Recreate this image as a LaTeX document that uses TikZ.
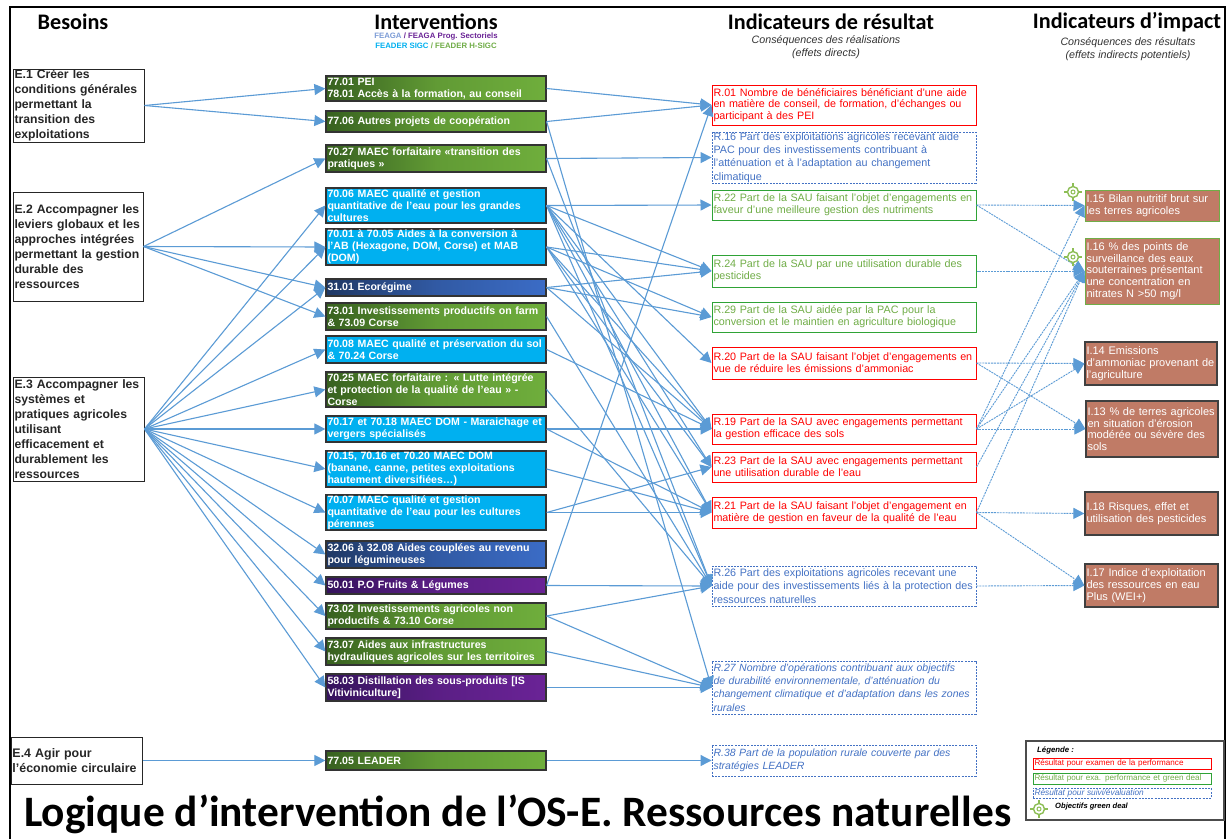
\documentclass[tikz,border=0pt]{standalone}
\usepackage{fontspec}
\setmainfont{Liberation Sans}
\newfontfamily\calib{Carlito}
\usetikzlibrary{arrows.meta}
\definecolor{cline}{HTML}{5B9BD5}
\definecolor{gdark}{HTML}{37601F}
\definecolor{glite}{HTML}{6FAE3C}
\definecolor{bsky}{HTML}{00B0F0}
\definecolor{bdark}{HTML}{1F3864}
\definecolor{blite}{HTML}{3B6CC6}
\definecolor{pdark}{HTML}{35135C}
\definecolor{plite}{HTML}{6A2396}
\definecolor{rblue}{HTML}{4472C4}
\definecolor{rgreen}{HTML}{70AD47}
\definecolor{bgreen}{HTML}{2FA336}
\definecolor{brick}{HTML}{C07B66}
\definecolor{icon}{HTML}{8DBE55}
\tikzset{
  base/.style={inner xsep=1.5pt,inner ysep=0pt,align=left,anchor=center},
  need/.style={base,draw=black!85,line width=1pt,fill=white,text=black!85,font=\fontsize{12.2}{15}\selectfont\bfseries},
  act/.style={base,draw=black!80,line width=1.2pt,text=white,font=\fontsize{10.6}{11.8}\selectfont\bfseries},
  agreen/.style={act,left color=gdark,right color=glite,middle color=glite!75!gdark},
  asky/.style={act,fill=bsky},
  ablue/.style={act,left color=bdark,right color=blite,middle color=blite!65!bdark},
  apurple/.style={act,left color=pdark,right color=plite,middle color=plite!70!pdark},
  rred/.style={base,draw=red,line width=1pt,fill=white,text=red,font=\fontsize{10.75}{11.8}\selectfont},
  rgr/.style={base,draw=bgreen,line width=1pt,fill=white,text=rgreen,font=\fontsize{10.75}{11.8}\selectfont},
  rbl/.style={base,draw=rblue,line width=0.9pt,dash pattern=on 2pt off 1.2pt,fill=white,text=rblue,font=\fontsize{10.75}{13.2}\selectfont},
  rbi/.style={rbl,font=\fontsize{10.5}{13.2}\selectfont\itshape},
  impgreen/.style={base,draw=rgreen,line width=1pt,fill=brick,text=white,font=\fontsize{11}{11.8}\selectfont},
  impdark/.style={base,draw=black!75,line width=1.2pt,fill=brick,text=white,font=\fontsize{11}{11.8}\selectfont},
  cn/.style={draw=cline,line width=1.1pt,-{Triangle[length=11pt,width=11pt,fill=cline]}},
  cd/.style={draw=cline,line width=0.9pt,dash pattern=on 2pt off 0.9pt,-{Triangle[length=11pt,width=11pt,fill=cline]}},
  hd/.style={font=\calib\fontsize{22.2}{24}\selectfont\bfseries,text=black,inner sep=0pt},
  sub/.style={font=\fontsize{10.7}{13}\selectfont\itshape,text=black!80,align=center,inner sep=0pt},
  small/.style={inner sep=0pt,anchor=west,font=\fontsize{7.6}{9}\selectfont},
  tg/.style={draw=icon,line width=1.4pt},
  lred/.style={base,draw=red,line width=1pt,fill=white,text=red,font=\fontsize{8.1}{9}\selectfont},
  lgre/.style={base,draw=bgreen,line width=1pt,fill=white,text=rgreen,font=\fontsize{8.1}{9}\selectfont},
  lblu/.style={base,draw=rblue,line width=0.9pt,dash pattern=on 2pt off 1.2pt,fill=white,text=rblue,font=\fontsize{8.3}{9}\selectfont\itshape}
}
\newcommand{\bx}[7]{%
  \pgfmathsetmacro\bw{#4-#2}\pgfmathsetmacro\bh{#5-#3}\pgfmathsetmacro\btw{#4-#2-3}%
  \node[#6,minimum width=\bw pt,minimum height=\bh pt,text width=\btw pt] (#1) at ({(#2+#4)/2},{(#3+#5)/2}) {#7};}
\newcommand{\tgt}[2]{%
  \draw[tg] (#1,#2) circle (5.5pt);
  \draw[tg,line width=1pt] (#1,#2) circle (2pt);
  \draw[tg] (#1-9,#2) -- (#1-5.5,#2) (#1+5.5,#2) -- (#1+9,#2) (#1,#2-9) -- (#1,#2-5.5) (#1,#2+5.5) -- (#1,#2+9);}
\begin{document}
\begin{tikzpicture}[x=1pt,y=-1pt]
\useasboundingbox (0,0) rectangle (1227,839);
\fill[white] (0,0) rectangle (1227,839);
\draw[black,line width=1.8pt] (10,839) -- (10,7) -- (1225,7) -- (1225,839);
% headers
\node[hd] (h1) at (73,22) {Besoins};
\node[hd] (h2) at (436,21.5) {Interventions};
\node[hd] (h3) at (831,22) {Indicateurs de résultat};
\node[hd] (h4) at (1127,22) {Indicateurs d’impact};
\node[font=\fontsize{7.8}{9}\selectfont\bfseries,inner sep=0pt] (s1) at (436,36.5) {\textcolor{rblue!70}{FEAGA}~\textcolor{plite}{/ FEAGA Prog. Sectoriels}};
\node[font=\fontsize{7.8}{9}\selectfont\bfseries,inner sep=0pt] (s2) at (436,45.5) {\textcolor{bsky}{FEADER SIGC}~\textcolor{rgreen}{/ FEADER H-SIGC}};
\node[sub] (s3) at (826,47.5) {Conséquences des réalisations\\(effets directs)};
\node[sub] (s4) at (1128,49.5) {Conséquences des résultats\\(effets indirects potentiels)};
% needs
\bx{e1}{13}{69}{144}{142}{need}{E.1 Créer les\\conditions générales\\permettant la\\transition des\\exploitations}
\bx{e2}{13}{192}{143}{301}{need}{E.2 Accompagner les\\leviers globaux et les\\approches intégrées\\permettant la gestion\\durable des\\ressources}
\bx{e3}{13}{377}{144}{481}{need}{E.3 Accompagner les\\systèmes et\\pratiques agricoles\\utilisant\\efficacement et\\durablement les\\ressources}
\bx{e4}{11}{737}{142}{784}{need,font=\fontsize{12.4}{15}\selectfont\bfseries}{E.4 Agir pour\\l'économie circulaire}
% interventions
\bx{a1}{326}{76}{546}{101}{agreen}{77.01 PEI\\78.01 Accès à la formation, au conseil}
\bx{a2}{326}{111}{546}{132}{agreen}{77.06 Autres projets de coopération}
\bx{a3}{326}{145}{546}{172}{agreen}{70.27 MAEC forfaitaire «transition des\\pratiques »}
\bx{a4}{326}{188}{546}{223}{asky}{70.06 MAEC qualité et gestion\\quantitative de l’eau pour les grandes\\cultures}
\bx{a5}{326}{229}{546}{265}{asky}{70.01 à 70.05 Aides à la conversion à\\l’AB (Hexagone, DOM, Corse) et MAB\\(DOM)}
\bx{a6}{326}{279}{546}{296}{ablue}{31.01 Ecorégime}
\bx{a7}{326}{303}{546}{330}{agreen}{73.01 Investissements productifs on farm\\\& 73.09 Corse}
\bx{a8}{326}{336}{546}{363}{asky}{70.08 MAEC qualité et préservation du sol\\\& 70.24 Corse}
\bx{a9}{326}{372}{546}{407}{agreen}{70.25 MAEC forfaitaire : « Lutte intégrée\\et protection de la qualité de l’eau » -\\Corse}
\bx{a10}{326}{416}{546}{442}{asky}{70.17 et 70.18 MAEC DOM - Maraichage et\\vergers spécialisés}
\bx{a11}{326}{451}{546}{487}{asky}{70.15, 70.16 et 70.20 MAEC DOM\\(banane, canne, petites exploitations\\hautement diversifiées…)}
\bx{a12}{326}{495}{546}{530}{asky}{70.07 MAEC qualité et gestion\\quantitative de l’eau pour les cultures\\pérennes}
\bx{a13}{326}{541}{546}{568}{ablue}{32.06 à 32.08 Aides couplées au revenu\\pour légumineuses}
\bx{a14}{326}{577}{546}{594}{apurple}{50.01 P.O Fruits \& Légumes}
\bx{a15}{326}{603}{546}{629}{agreen}{73.02 Investissements agricoles non\\productifs \& 73.10 Corse}
\bx{a16}{326}{638}{546}{665}{agreen}{73.07 Aides aux infrastructures\\hydrauliques agricoles sur les territoires}
\bx{a17}{326}{674}{546}{701}{apurple}{58.03 Distillation des sous-produits [IS\\Vitiviniculture]}
\bx{a18}{326}{751}{546}{770}{agreen}{77.05 LEADER}
% results
\bx{r01}{712}{85}{976}{125}{rred}{R.01 Nombre de bénéficiaires bénéficiant d'une aide\\en matière de conseil, de formation, d'échanges ou\\participant à des PEI}
\bx{r16}{712}{132}{976}{183}{rbl}{R.16 Part des exploitations agricoles recevant aide\\PAC pour des investissements contribuant à\\l'atténuation et à l'adaptation au changement\\climatique}
\bx{r22}{712}{190}{976}{220}{rgr}{R.22 Part de la SAU faisant l'objet d'engagements en\\faveur d'une meilleure gestion des nutriments}
\bx{r24}{712}{255}{976}{287}{rgr}{R.24 Part de la SAU par une utilisation durable des\\pesticides}
\bx{r29}{712}{302}{976}{332}{rgr}{R.29 Part de la SAU aidée par la PAC pour la\\conversion et le maintien en agriculture biologique}
\bx{r20}{712}{347}{976}{379}{rred}{R.20 Part de la SAU faisant l'objet d'engagements en\\vue de réduire les émissions d'ammoniac}
\bx{r19}{712}{414}{976}{444}{rred}{R.19 Part de la SAU avec engagements permettant\\la gestion efficace des sols}
\bx{r23}{712}{452}{976}{482}{rred}{R.23 Part de la SAU avec engagements permettant\\une utilisation durable de l'eau}
\bx{r21}{712}{497}{976}{528}{rred}{R.21 Part de la SAU faisant l'objet d'engagement en\\matière de gestion en faveur de la qualité de l'eau}
\bx{r26}{712}{566}{976}{606}{rbl}{R.26 Part des exploitations agricoles recevant une\\aide pour des investissements liés à la protection des\\ressources naturelles}
\bx{r27}{712}{661}{976}{714}{rbi}{R.27 Nombre d'opérations contribuant aux objectifs\\de durabilité environnementale, d'atténuation du\\changement climatique et d'adaptation dans les zones\\rurales}
\bx{r38}{712}{745}{976}{776}{rbi}{R.38 Part de la population rurale couverte par des\\stratégies LEADER}
% impacts
\bx{i15}{1085}{190}{1219}{221}{impgreen}{I.15 Bilan nutritif brut sur\\les terres agricoles}
\bx{i16}{1085}{238}{1219}{304}{impgreen}{I.16 \% des points de\\surveillance des eaux\\souterraines présentant\\une concentration en\\nitrates N >50 mg/l}
\bx{i14}{1085}{342}{1217}{385}{impdark}{I.14 Emissions\\d'ammoniac provenant de\\l'agriculture}
\bx{i13}{1086}{401}{1218}{457}{impdark}{I.13 \% de terres agricoles\\en situation d'érosion\\modérée ou sévère des\\sols}
\bx{i18}{1085}{492}{1218}{535}{impdark}{I.18 Risques, effet et\\utilisation des pesticides}
\bx{i17}{1085}{564}{1218}{607}{impdark}{I.17 Indice d'exploitation\\des ressources en eau\\Plus (WEI+)}
% connectors: needs to interventions
\foreach \p/\q in {e1/a1,e1/a2,e2/a3,e2/a5,e2/a6,e2/a7,e3/a4,e3/a5,e3/a6,e3/a8,e3/a9,e3/a10,e3/a11,e3/a12,e3/a13,e3/a14,e3/a15,e3/a16,e3/a17,e4/a18}
  \draw[cn] (\p.east) -- (\q.west);
% connectors: interventions to results
\foreach \p/\q in {a1/r01,a2/r01,a2/r27,a3/r16,a3/r26,a4/r22,a4/r24,a4/r20,a4/r19,a4/r23,a4/r21,a4/r26,a5/r24,a5/r29,a5/r19,a5/r23,a5/r21,a6/r24,a6/r29,a6/r19,a7/r26,a8/r19,a9/r26,a10/r19,a10/r21,a11/r21,a12/r21,a12/r23,a14/r01,a14/r26,a15/r26,a15/r27,a16/r27,a17/r27,a18/r38}
  \draw[cn] (\p.east) -- (\q.west);
% connectors: results to impacts
\foreach \p/\q in {r22/i15,r22/i16,r24/i16,r20/i14,r20/i13,r19/i13,r19/i14,r19/i15,r19/i16,r23/i16,r21/i16,r21/i18,r21/i17,r26/i17}
  \draw[cd] (\p.east) -- (\q.west);
% green deal icons
\tgt{1073}{192}
\tgt{1073}{257}
% legend
\node[draw=black!70,line width=1.1pt,fill=white,minimum width=198pt,minimum height=79pt,inner sep=0pt] (lg) at (1125,780.5) {};
\node[small,font=\fontsize{7.8}{9}\selectfont\bfseries\itshape] (lt) at (1037,750) {Légende :};
\bx{l1}{1033}{758}{1211}{769}{lred}{Résultat pour examen de la performance}
\bx{l2}{1033}{773}{1211}{784}{lgre}{Résultat pour exa. performance et green deal}
\bx{l3}{1033}{788}{1211}{798}{lblu}{Résultat pour suivi/évaluation}
\tgt{1039}{809}
\node[small,font=\fontsize{7.6}{9}\selectfont\bfseries\itshape] (l4) at (1055,807) {Objectifs green deal};
% title
\node[inner sep=0pt,anchor=base west,font=\calib\fontsize{43.4}{46}\selectfont\bfseries] (title) at (24,826) {Logique d’intervention de l’OS-E. Ressources naturelles};
\end{tikzpicture}
\end{document}
